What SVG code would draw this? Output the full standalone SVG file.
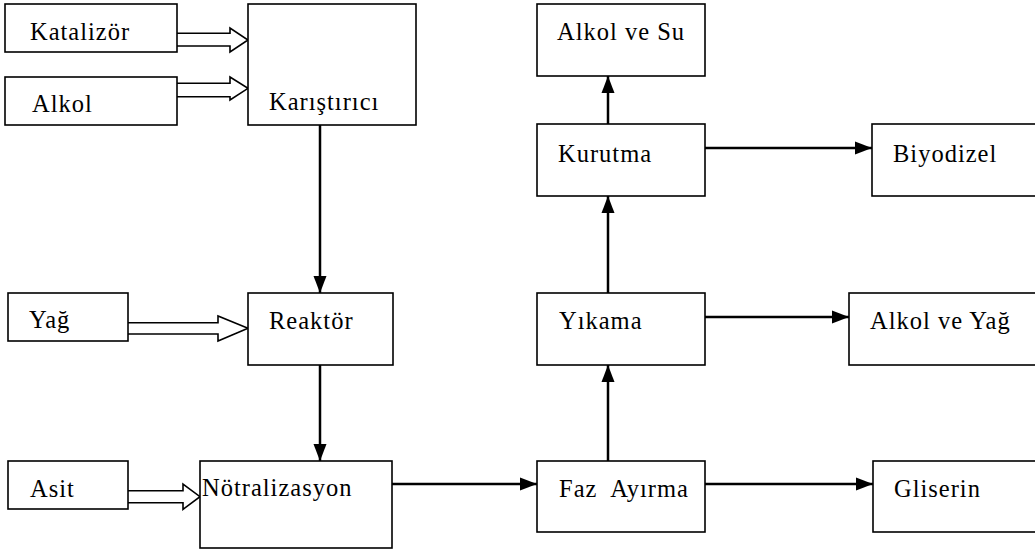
<svg xmlns="http://www.w3.org/2000/svg" width="1035" height="552" viewBox="0 0 1035 552">
<style>
.box{fill:#fff;stroke:#000;stroke-width:1.6}
.t{font-family:"Liberation Serif","Times New Roman",serif;font-size:24.5px;letter-spacing:1px;fill:#000}
.c{stroke:#000;stroke-width:2.5;fill:none}
.h{stroke:#000;stroke-width:1.6;fill:#fff}
</style>
<defs>
<marker id="ah" markerUnits="userSpaceOnUse" markerWidth="18" markerHeight="14" refX="17" refY="7" orient="auto">
<path d="M0,0.5 L17,7 L0,13.5 Z" fill="#000"/>
</marker>
</defs>
<rect width="1035" height="552" fill="#fff"/>
<g id="connectors">
<path class="h" d="M177,33.3 H230 V28 L248,40 L230,52 V46 H177"/>
<path class="h" d="M177,83.3 H230 V77 L248,88.3 L230,100 V96.7 H177"/>
<path class="h" d="M128,322.7 H218 V316 L248,328.3 L218,341 V334 H128"/>
<path class="h" d="M128,490.7 H183 V484 L200,496.7 L183,509.3 V502.7 H128"/>
<line class="c" x1="320" y1="125" x2="320" y2="293" marker-end="url(#ah)"/>
<line class="c" x1="320" y1="365" x2="320" y2="461" marker-end="url(#ah)"/>
<line class="c" x1="392" y1="484" x2="537" y2="484" marker-end="url(#ah)"/>
<line class="c" x1="705" y1="484" x2="873" y2="484" marker-end="url(#ah)"/>
<line class="c" x1="608" y1="461" x2="608" y2="365" marker-end="url(#ah)"/>
<line class="c" x1="705" y1="317" x2="849" y2="317" marker-end="url(#ah)"/>
<line class="c" x1="608" y1="293" x2="608" y2="196" marker-end="url(#ah)"/>
<line class="c" x1="705" y1="148" x2="872" y2="148" marker-end="url(#ah)"/>
<line class="c" x1="608" y1="124" x2="608" y2="76" marker-end="url(#ah)"/>
</g>
<g id="katalizor"><rect class="box" x="5" y="4" width="172" height="48"/><text class="t" x="30" y="40">Katalizör</text></g>
<g id="alkol"><rect class="box" x="5" y="77" width="172" height="48"/><text class="t" x="32" y="112">Alkol</text></g>
<g id="karistirici"><rect class="box" x="248" y="4" width="168" height="121"/><text class="t" x="269" y="110">Karıştırıcı</text></g>
<g id="yag"><rect class="box" x="8" y="293" width="120" height="48"/><text class="t" x="29" y="328">Yağ</text></g>
<g id="reaktor"><rect class="box" x="248" y="293" width="145" height="72"/><text class="t" x="269" y="329">Reaktör</text></g>
<g id="asit"><rect class="box" x="8" y="461" width="120" height="48"/><text class="t" x="30" y="497">Asit</text></g>
<g id="notralizasyon"><rect class="box" x="200" y="461" width="192" height="87"/><text class="t" x="202" y="496">Nötralizasyon</text></g>
<g id="faz-ayirma"><rect class="box" x="537" y="461" width="168" height="71"/><text class="t" x="559" y="497" xml:space="preserve">Faz  Ayırma</text></g>
<g id="gliserin"><rect class="box" x="873" y="461" width="170" height="71"/><text class="t" x="894" y="497">Gliserin</text></g>
<g id="yikama"><rect class="box" x="537" y="293" width="168" height="72"/><text class="t" x="559" y="329">Yıkama</text></g>
<g id="alkol-ve-yag"><rect class="box" x="849" y="293" width="194" height="72"/><text class="t" x="870" y="329">Alkol ve Yağ</text></g>
<g id="kurutma"><rect class="box" x="537" y="124" width="168" height="72"/><text class="t" x="558" y="162">Kurutma</text></g>
<g id="biyodizel"><rect class="box" x="872" y="124" width="170" height="72"/><text class="t" x="893" y="162">Biyodizel</text></g>
<g id="alkol-ve-su"><rect class="box" x="537" y="4" width="168" height="72"/><text class="t" x="557" y="40">Alkol ve Su</text></g>
</svg>
